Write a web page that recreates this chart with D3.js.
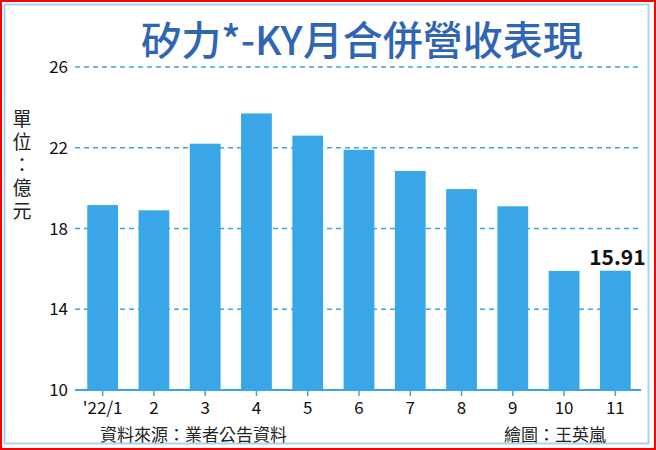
<!DOCTYPE html>
<html><head><meta charset="utf-8">
<script src="https://cdn.jsdelivr.net/npm/d3@7"></script>
<style>body{margin:0;background:#fff}svg{display:block}</style>
</head><body>
<script>
const months = ["'22/1", '2', '3', '4', '5', '6', '7', '8', '9', '10', '11']
const revenue = [19.16, 18.9, 22.2, 23.7, 22.6, 21.9, 20.85, 19.95, 19.1, 15.9, 15.91]
const yTicks = [10, 14, 18, 22, 26]

const W = 656, H = 450
const svg = d3.select('body').append('svg').attr('width', W).attr('height', H)
const font = '"Noto Sans CJK TC", sans-serif'

// frames
svg.append('rect').attr('x', 1).attr('y', 1).attr('width', W - 2).attr('height', H - 2)
  .attr('fill', 'none').attr('stroke', '#f00').attr('stroke-width', 2)
svg.append('rect').attr('x', 4.5).attr('y', 4.5).attr('width', W - 12).attr('height', H - 11)
  .attr('fill', 'none').attr('stroke', '#a9d4f0').attr('stroke-width', 2)

const x = d3.scaleBand().domain(months).range([77, 641]).paddingInner(0.4).paddingOuter(0.2)
const y = d3.scaleLinear().domain([10, 26]).range([390, 67])

// grid
svg.append('g').selectAll('line').data(yTicks.slice(1)).join('line')
  .attr('x1', 75).attr('x2', 641).attr('y1', d => y(d)).attr('y2', d => y(d))
  .attr('stroke', '#3aa5e6').attr('stroke-width', 1.3).attr('stroke-dasharray', '5,4')

svg.append('g').selectAll('text').data(yTicks).join('text')
  .attr('x', 68).attr('y', d => y(d) + 6).attr('text-anchor', 'end')
  .attr('font-family', font).attr('font-size', 17).attr('fill', '#111').text(d => d)

// bars
svg.append('g').selectAll('rect').data(revenue).join('rect')
  .attr('x', (d, i) => x(months[i])).attr('width', x.bandwidth())
  .attr('y', d => y(d)).attr('height', d => y(10) - y(d)).attr('fill', '#38a6e7')

// baseline + ticks
svg.append('line').attr('x1', 75).attr('x2', 641).attr('y1', 390).attr('y2', 390)
  .attr('stroke', '#38a6e7').attr('stroke-width', 2)
svg.append('g').selectAll('line').data(months).join('line')
  .attr('x1', d => x(d) + x.bandwidth() / 2).attr('x2', d => x(d) + x.bandwidth() / 2)
  .attr('y1', 390).attr('y2', 396).attr('stroke', '#38a6e7').attr('stroke-width', 1.5)
svg.append('g').selectAll('text').data(months).join('text')
  .attr('x', d => x(d) + x.bandwidth() / 2).attr('y', 414).attr('text-anchor', 'middle')
  .attr('font-family', font).attr('font-size', 17).attr('fill', '#111').text(d => d)

// last value label
const last = revenue.length - 1
svg.append('text').attr('x', x(months[last]) + x.bandwidth() / 2 + 2).attr('y', y(revenue[last]) - 6)
  .attr('text-anchor', 'middle').attr('font-family', font).attr('font-weight', 'bold')
  .attr('font-size', 21).attr('fill', '#111').text(revenue[last].toFixed(2))

// title
svg.append('text').attr('x', 362).attr('y', 55).attr('text-anchor', 'middle')
  .attr('font-family', font).attr('font-weight', 500).attr('font-size', 40)
  .attr('fill', '#2f66b3').text('矽力*-KY月合併營收表現')

// unit label
const unit = ['單', '位', '：', '億', '元']
svg.append('g').selectAll('text').data(unit).join('text')
  .attr('x', 22).attr('y', (d, i) => 126 + i * 23).attr('text-anchor', 'middle')
  .attr('font-family', font).attr('font-size', 19).attr('fill', '#222').text(d => d)

// footer
svg.append('text').attr('x', 100).attr('y', 441).attr('font-family', font)
  .attr('font-size', 17).attr('fill', '#222').text('資料來源：業者公告資料')
svg.append('text').attr('x', 606).attr('y', 441).attr('text-anchor', 'end').attr('font-family', font)
  .attr('font-size', 17).attr('fill', '#222').text('繪圖：王英嵐')
</script>
</body></html>
